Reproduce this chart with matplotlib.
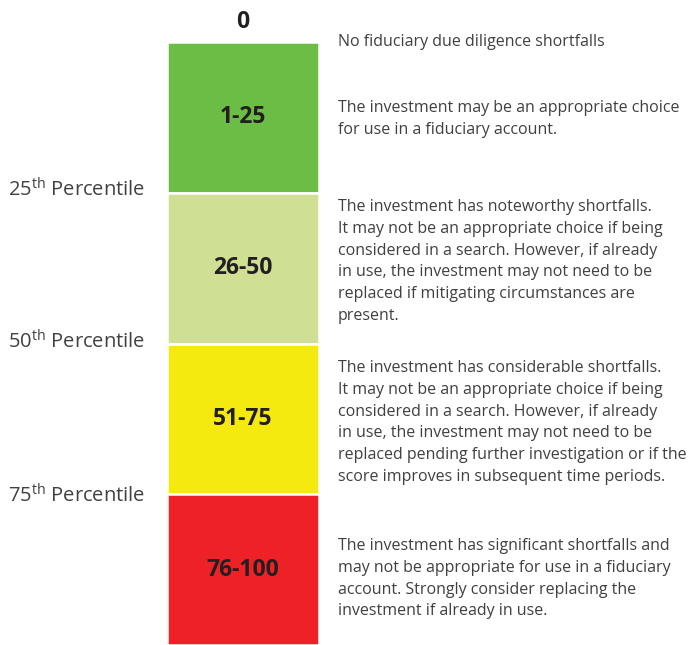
import matplotlib
matplotlib.use("Agg")
import matplotlib.pyplot as plt

# score bands
band_labels = ["1-25", "26-50", "51-75", "76-100"]
band_start = [0, 25, 50, 75]
band_size = [25, 25, 25, 25]
band_colors = ["#6BBD45", "#CFE094", "#F4EA10", "#EE2226"]

percentile_labels = ["25", "50", "75"]
percentile_pos = [24.6, 49.8, 75.2]

top_note = "No fiduciary due diligence shortfalls"
descriptions = [
    "The investment may be an appropriate choice\nfor use in a fiduciary account.",
    "The investment has noteworthy shortfalls.\nIt may not be an appropriate choice if being\n"
    "considered in a search. However, if already\nin use, the investment may not need to be\n"
    "replaced if mitigating circumstances are\npresent.",
    "The investment has considerable shortfalls.\nIt may not be an appropriate choice if being\n"
    "considered in a search. However, if already\nin use, the investment may not need to be\n"
    "replaced pending further investigation or if the\nscore improves in subsequent time periods.",
    "The investment has significant shortfalls and\nmay not be appropriate for use in a fiduciary\n"
    "account. Strongly consider replacing the\ninvestment if already in use.",
]
desc_pos = [12.8, 36.4, 63.1, 89.0]

plt.rcParams["font.family"] = ["Open Sans", "DejaVu Sans"]
plt.rcParams["mathtext.fontset"] = "custom"
plt.rcParams["mathtext.rm"] = "Open Sans"

fig = plt.figure(figsize=(6.91, 6.45), dpi=100)
ax = fig.add_axes([0, 0, 1, 1])
ax.set_xlim(0, 691)
ax.set_ylim(100, -42 / 6.03)
ax.axis("off")

ax.bar([243] * 4, band_size, bottom=band_start, width=152, color=band_colors,
       edgecolor="white", linewidth=1.8)
for lab, s, h in zip(band_labels, band_start, band_size):
    ax.text(243, s + h / 2, lab, ha="center", va="center", fontsize=16.5,
            fontweight="bold", color="#231F20")
ax.text(243, -3.3, "0", ha="center", va="center", fontsize=16.5,
        fontweight="bold", color="#231F20")

for lab, p in zip(percentile_labels, percentile_pos):
    ax.text(8, p, lab + r"$^{\mathrm{th}}$ Percentile", ha="left", va="center",
            fontsize=14.5, color="#404040")

ax.text(338, 0, top_note, ha="left", va="center", fontsize=11.5, color="#404040")
for txt, y in zip(descriptions, desc_pos):
    ax.text(338, y, txt, ha="left", va="center", fontsize=11.5, color="#404040",
            linespacing=1.48)

fig.savefig("out.png", dpi=100)
